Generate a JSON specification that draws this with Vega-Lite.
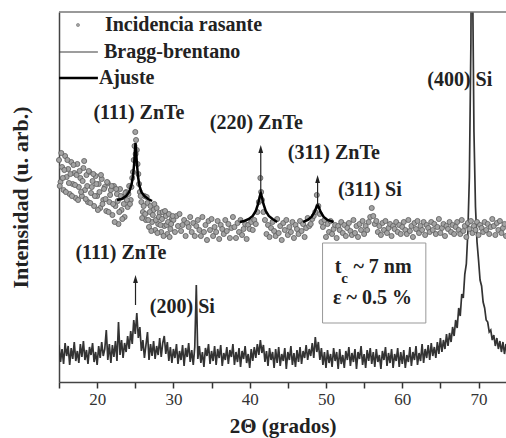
{
  "$schema": "https://vega.github.io/schema/vega-lite/v6.json",
  "width": 447,
  "height": 370,
  "autosize": {"type": "none"},
  "padding": {"left": 59, "top": 12, "right": 0, "bottom": 56},
  "config": {"view": {"stroke": null}, "font": "Liberation Serif", "axis": {"grid": false}},
  "datasets": {
    "bb": [
      {"x":15.0,"y":37},{"x":15.2,"y":20},{"x":15.4,"y":33},{"x":15.6,"y":18},{"x":15.8,"y":39},{"x":16.0,"y":26},{"x":16.2,"y":36},{"x":16.4,"y":17},{"x":16.6,"y":34},{"x":16.8,"y":23},
      {"x":17.0,"y":40},{"x":17.2,"y":21},{"x":17.4,"y":31},{"x":17.6,"y":19},{"x":17.8,"y":38},{"x":18.0,"y":25},{"x":18.2,"y":41},{"x":18.4,"y":22},{"x":18.6,"y":32},{"x":18.8,"y":18},
      {"x":19.0,"y":35},{"x":19.2,"y":27},{"x":19.4,"y":39},{"x":19.6,"y":20},{"x":19.8,"y":30},{"x":20.0,"y":17},{"x":20.2,"y":36},{"x":20.4,"y":24},{"x":20.6,"y":40},{"x":20.8,"y":26},
      {"x":21.0,"y":33},{"x":21.2,"y":52},{"x":21.4,"y":22},{"x":21.6,"y":38},{"x":21.8,"y":19},{"x":22.0,"y":37},{"x":22.2,"y":25},{"x":22.4,"y":41},{"x":22.6,"y":21},{"x":22.8,"y":60},
      {"x":23.0,"y":27},{"x":23.2,"y":42},{"x":23.4,"y":24},{"x":23.6,"y":39},{"x":23.8,"y":30},{"x":24.0,"y":46},{"x":24.2,"y":33},{"x":24.4,"y":51},{"x":24.6,"y":38},{"x":24.8,"y":62},
      {"x":25.0,"y":48},{"x":25.2,"y":69},{"x":25.4,"y":44},{"x":25.6,"y":55},{"x":25.8,"y":31},{"x":26.0,"y":42},{"x":26.2,"y":24},{"x":26.4,"y":37},{"x":26.6,"y":50},{"x":26.8,"y":22},
      {"x":27.0,"y":38},{"x":27.2,"y":26},{"x":27.4,"y":41},{"x":27.6,"y":23},{"x":27.8,"y":36},{"x":28.0,"y":27},{"x":28.2,"y":44},{"x":28.4,"y":25},{"x":28.6,"y":39},{"x":28.8,"y":46},
      {"x":29.0,"y":28},{"x":29.2,"y":40},{"x":29.4,"y":21},{"x":29.6,"y":35},{"x":29.8,"y":19},{"x":30.0,"y":33},{"x":30.2,"y":24},{"x":30.4,"y":38},{"x":30.6,"y":18},{"x":30.8,"y":31},
      {"x":31.0,"y":22},{"x":31.2,"y":37},{"x":31.4,"y":16},{"x":31.6,"y":34},{"x":31.8,"y":25},{"x":32.0,"y":39},{"x":32.2,"y":20},{"x":32.4,"y":32},{"x":32.6,"y":17},{"x":32.8,"y":35},
      {"x":33.0,"y":97},{"x":33.2,"y":23},{"x":33.4,"y":36},{"x":33.6,"y":19},{"x":33.8,"y":30},{"x":34.0,"y":15},{"x":34.2,"y":34},{"x":34.4,"y":26},{"x":34.6,"y":38},{"x":34.8,"y":18},
      {"x":35.0,"y":31},{"x":35.2,"y":21},{"x":35.4,"y":36},{"x":35.6,"y":17},{"x":35.8,"y":33},{"x":36.0,"y":24},{"x":36.2,"y":37},{"x":36.4,"y":16},{"x":36.6,"y":29},{"x":36.8,"y":22},
      {"x":37.0,"y":35},{"x":37.2,"y":18},{"x":37.4,"y":32},{"x":37.6,"y":25},{"x":37.8,"y":38},{"x":38.0,"y":17},{"x":38.2,"y":30},{"x":38.4,"y":20},{"x":38.6,"y":34},{"x":38.8,"y":15},
      {"x":39.0,"y":31},{"x":39.2,"y":23},{"x":39.4,"y":36},{"x":39.6,"y":19},{"x":39.8,"y":28},{"x":40.0,"y":14},{"x":40.2,"y":33},{"x":40.4,"y":21},{"x":40.6,"y":35},{"x":40.8,"y":24},
      {"x":41.0,"y":38},{"x":41.2,"y":27},{"x":41.4,"y":42},{"x":41.6,"y":29},{"x":41.8,"y":37},{"x":42.0,"y":20},{"x":42.2,"y":31},{"x":42.4,"y":16},{"x":42.6,"y":34},{"x":42.8,"y":22},
      {"x":43.0,"y":30},{"x":43.2,"y":14},{"x":43.4,"y":33},{"x":43.6,"y":19},{"x":43.8,"y":35},{"x":44.0,"y":16},{"x":44.2,"y":28},{"x":44.4,"y":21},{"x":44.6,"y":34},{"x":44.8,"y":13},
      {"x":45.0,"y":30},{"x":45.2,"y":22},{"x":45.4,"y":36},{"x":45.6,"y":17},{"x":45.8,"y":29},{"x":46.0,"y":15},{"x":46.2,"y":32},{"x":46.4,"y":20},{"x":46.6,"y":35},{"x":46.8,"y":18},
      {"x":47.0,"y":31},{"x":47.2,"y":24},{"x":47.4,"y":37},{"x":47.6,"y":22},{"x":47.8,"y":33},{"x":48.0,"y":26},{"x":48.2,"y":39},{"x":48.4,"y":24},{"x":48.6,"y":45},{"x":48.8,"y":30},
      {"x":49.0,"y":40},{"x":49.2,"y":22},{"x":49.4,"y":34},{"x":49.6,"y":17},{"x":49.8,"y":30},{"x":50.0,"y":14},{"x":50.2,"y":32},{"x":50.4,"y":19},{"x":50.6,"y":28},{"x":50.8,"y":15},
      {"x":51.0,"y":34},{"x":51.2,"y":21},{"x":51.4,"y":30},{"x":51.6,"y":13},{"x":51.8,"y":33},{"x":52.0,"y":18},{"x":52.2,"y":27},{"x":52.4,"y":14},{"x":52.6,"y":31},{"x":52.8,"y":22},
      {"x":53.0,"y":35},{"x":53.2,"y":16},{"x":53.4,"y":29},{"x":53.6,"y":20},{"x":53.8,"y":33},{"x":54.0,"y":13},{"x":54.2,"y":30},{"x":54.4,"y":23},{"x":54.6,"y":36},{"x":54.8,"y":17},
      {"x":55.0,"y":28},{"x":55.2,"y":14},{"x":55.4,"y":32},{"x":55.6,"y":21},{"x":55.8,"y":34},{"x":56.0,"y":18},{"x":56.2,"y":30},{"x":56.4,"y":15},{"x":56.6,"y":33},{"x":56.8,"y":20},
      {"x":57.0,"y":27},{"x":57.2,"y":13},{"x":57.4,"y":31},{"x":57.6,"y":22},{"x":57.8,"y":35},{"x":58.0,"y":16},{"x":58.2,"y":29},{"x":58.4,"y":19},{"x":58.6,"y":33},{"x":58.8,"y":14},
      {"x":59.0,"y":28},{"x":59.2,"y":21},{"x":59.4,"y":34},{"x":59.6,"y":15},{"x":59.8,"y":30},{"x":60.0,"y":18},{"x":60.2,"y":32},{"x":60.4,"y":14},{"x":60.6,"y":27},{"x":60.8,"y":20},
      {"x":61.0,"y":35},{"x":61.2,"y":16},{"x":61.4,"y":30},{"x":61.6,"y":22},{"x":61.8,"y":36},{"x":62.0,"y":17},{"x":62.2,"y":29},{"x":62.4,"y":21},{"x":62.6,"y":38},{"x":62.8,"y":19},
      {"x":63.0,"y":33},{"x":63.2,"y":24},{"x":63.4,"y":37},{"x":63.6,"y":22},{"x":63.8,"y":39},{"x":64.0,"y":26},{"x":64.2,"y":35},{"x":64.4,"y":24},{"x":64.6,"y":40},{"x":64.8,"y":28},
      {"x":65.0,"y":44},{"x":65.2,"y":30},{"x":65.4,"y":42},{"x":65.6,"y":33},{"x":65.8,"y":48},{"x":66.0,"y":36},{"x":66.2,"y":49},{"x":66.4,"y":40},{"x":66.6,"y":55},{"x":66.8,"y":46},
      {"x":67.0,"y":62},{"x":67.2,"y":54},{"x":67.4,"y":74},{"x":67.6,"y":66},{"x":67.8,"y":88},{"x":68.0,"y":84},{"x":68.2,"y":108},{"x":68.4,"y":118},{"x":68.6,"y":150},{"x":68.8,"y":205},
      {"x":69.0,"y":340},{"x":69.1,"y":500},{"x":69.2,"y":420},{"x":69.4,"y":250},{"x":69.6,"y":175},{"x":69.8,"y":140},{"x":70.0,"y":122},{"x":70.2,"y":102},{"x":70.4,"y":96},{"x":70.6,"y":80},
      {"x":70.8,"y":74},{"x":71.0,"y":62},{"x":71.2,"y":60},{"x":71.4,"y":50},{"x":71.6,"y":52},{"x":71.8,"y":42},{"x":72.0,"y":47},{"x":72.2,"y":36},{"x":72.4,"y":44},{"x":72.6,"y":33},
      {"x":72.8,"y":41},{"x":73.0,"y":30},{"x":73.2,"y":40},{"x":73.4,"y":28},{"x":73.6,"y":38}
    ],
    "gi": [
      {"x":15.0,"y":222},{"x":15.2,"y":200},{"x":15.4,"y":215},{"x":15.6,"y":192},{"x":15.8,"y":226},{"x":16.0,"y":205},{"x":16.2,"y":213},{"x":16.4,"y":188},{"x":16.6,"y":220},{"x":16.8,"y":198},
      {"x":17.0,"y":209},{"x":17.2,"y":184},{"x":17.4,"y":218},{"x":17.6,"y":195},{"x":17.8,"y":204},{"x":18.0,"y":186},{"x":18.2,"y":214},{"x":18.4,"y":192},{"x":18.6,"y":207},{"x":18.8,"y":180},
      {"x":19.0,"y":210},{"x":19.2,"y":189},{"x":19.4,"y":201},{"x":19.6,"y":176},{"x":19.8,"y":206},{"x":20.0,"y":186},{"x":20.2,"y":198},{"x":20.4,"y":174},{"x":20.6,"y":203},{"x":20.8,"y":182},
      {"x":21.0,"y":195},{"x":21.2,"y":171},{"x":21.4,"y":199},{"x":21.6,"y":180},{"x":21.8,"y":192},{"x":22.0,"y":167},{"x":22.2,"y":196},{"x":22.4,"y":176},{"x":22.6,"y":188},{"x":22.8,"y":158},
      {"x":23.0,"y":193},{"x":23.2,"y":172},{"x":23.4,"y":185},{"x":23.6,"y":165},{"x":23.8,"y":190},{"x":24.0,"y":175},{"x":24.2,"y":196},{"x":24.4,"y":182},{"x":24.6,"y":204},{"x":24.8,"y":222},
      {"x":25.0,"y":250},{"x":25.1,"y":242},{"x":25.2,"y":232},{"x":25.4,"y":208},{"x":25.6,"y":190},{"x":25.8,"y":180},{"x":26.0,"y":170},{"x":26.2,"y":186},{"x":26.4,"y":162},{"x":26.6,"y":179},
      {"x":26.8,"y":155},{"x":27.0,"y":176},{"x":27.2,"y":160},{"x":27.4,"y":172},{"x":27.6,"y":152},{"x":27.8,"y":174},{"x":28.0,"y":158},{"x":28.2,"y":169},{"x":28.4,"y":150},{"x":28.6,"y":170},
      {"x":28.8,"y":156},{"x":29.0,"y":166},{"x":29.2,"y":148},{"x":29.4,"y":168},{"x":29.6,"y":153},{"x":29.8,"y":163},
      {"x":30.0,"y":162},{"x":30.2,"y":150},{"x":30.4,"y":166},{"x":30.6,"y":156},{"x":30.8,"y":168},{"x":31.0,"y":151},{"x":31.2,"y":157},{"x":31.4,"y":162},{"x":31.6,"y":146},{"x":31.8,"y":159},
      {"x":32.0,"y":155},{"x":32.2,"y":165},{"x":32.4,"y":150},{"x":32.6,"y":159},{"x":32.8,"y":146},{"x":33.0,"y":156},{"x":33.2,"y":162},{"x":33.4,"y":152},{"x":33.6,"y":146},{"x":33.8,"y":165},
      {"x":34.0,"y":150},{"x":34.2,"y":157},{"x":34.4,"y":142},{"x":34.6,"y":161},{"x":34.8,"y":152},{"x":35.0,"y":163},{"x":35.2,"y":146},{"x":35.4,"y":155},{"x":35.6,"y":150},{"x":35.8,"y":161},
      {"x":36.0,"y":143},{"x":36.2,"y":157},{"x":36.4,"y":153},{"x":36.6,"y":148},{"x":36.8,"y":162},{"x":37.0,"y":151},{"x":37.2,"y":158},{"x":37.4,"y":144},{"x":37.6,"y":154},{"x":37.8,"y":165},
      {"x":38.0,"y":155},{"x":38.2,"y":144},{"x":38.4,"y":159},{"x":38.6,"y":150},{"x":38.8,"y":162},{"x":39.0,"y":147},{"x":39.2,"y":153},{"x":39.4,"y":158},{"x":39.6,"y":143},{"x":39.8,"y":157},
      {"x":40.0,"y":153},{"x":40.2,"y":160},{"x":40.4,"y":152},{"x":40.6,"y":162},
      {"x":40.8,"y":158},{"x":41.0,"y":170},{"x":41.2,"y":180},{"x":41.4,"y":204},{"x":41.5,"y":190},{"x":41.6,"y":182},{"x":41.8,"y":170},{"x":42.0,"y":162},
      {"x":42.2,"y":148},{"x":42.4,"y":157},{"x":42.6,"y":145},{"x":42.8,"y":154},{"x":43.0,"y":160},{"x":43.2,"y":151},{"x":43.4,"y":146},{"x":43.6,"y":163},{"x":43.8,"y":149},{"x":44.0,"y":156},
      {"x":44.2,"y":142},{"x":44.4,"y":159},{"x":44.6,"y":152},{"x":44.8,"y":162},{"x":45.0,"y":147},{"x":45.2,"y":155},{"x":45.4,"y":150},{"x":45.6,"y":160},{"x":45.8,"y":144},{"x":46.0,"y":157},
      {"x":46.2,"y":153},{"x":46.4,"y":148},{"x":46.6,"y":161},{"x":46.8,"y":151},{"x":47.0,"y":158},{"x":47.2,"y":145},{"x":47.4,"y":154},{"x":47.6,"y":164},{"x":47.8,"y":156},{"x":48.0,"y":158},
      {"x":48.2,"y":163},{"x":48.4,"y":166},{"x":48.6,"y":170},{"x":48.8,"y":187},{"x":49.0,"y":176},{"x":49.2,"y":168},{"x":49.4,"y":160},{"x":49.6,"y":155},{"x":49.8,"y":162},
      {"x":50.0,"y":145},{"x":50.2,"y":158},{"x":50.4,"y":150},{"x":50.6,"y":161},{"x":50.8,"y":148},{"x":51.0,"y":153},{"x":51.2,"y":157},{"x":51.4,"y":144},{"x":51.6,"y":156},{"x":51.8,"y":152},
      {"x":52.0,"y":160},{"x":52.2,"y":149},{"x":52.4,"y":157},{"x":52.6,"y":146},{"x":52.8,"y":154},{"x":53.0,"y":159},{"x":53.2,"y":151},{"x":53.4,"y":147},{"x":53.6,"y":162},{"x":53.8,"y":149},
      {"x":54.0,"y":156},{"x":54.2,"y":145},{"x":54.4,"y":158},{"x":54.6,"y":152},{"x":54.8,"y":161},{"x":55.0,"y":148},{"x":55.2,"y":156},{"x":55.4,"y":152},{"x":55.6,"y":160},{"x":55.8,"y":165},
      {"x":56.0,"y":174},{"x":56.2,"y":166},{"x":56.4,"y":158},{"x":56.6,"y":161},{"x":56.8,"y":150},
      {"x":57.0,"y":156},{"x":57.2,"y":147},{"x":57.4,"y":159},{"x":57.6,"y":152},{"x":57.8,"y":161},{"x":58.0,"y":149},{"x":58.2,"y":154},{"x":58.4,"y":158},{"x":58.6,"y":146},{"x":58.8,"y":156},
      {"x":59.0,"y":153},{"x":59.2,"y":160},{"x":59.4,"y":150},{"x":59.6,"y":157},{"x":59.8,"y":148},{"x":60.0,"y":155},{"x":60.2,"y":160},{"x":60.4,"y":152},{"x":60.6,"y":148},{"x":60.8,"y":162},
      {"x":61.0,"y":151},{"x":61.2,"y":156},{"x":61.4,"y":145},{"x":61.6,"y":159},{"x":61.8,"y":153},{"x":62.0,"y":161},{"x":62.2,"y":149},{"x":62.4,"y":156},{"x":62.6,"y":152},{"x":62.8,"y":160},
      {"x":63.0,"y":147},{"x":63.2,"y":157},{"x":63.4,"y":154},{"x":63.6,"y":150},{"x":63.8,"y":160},{"x":64.0,"y":152},{"x":64.2,"y":158},{"x":64.4,"y":148},{"x":64.6,"y":155},{"x":64.8,"y":163},
      {"x":65.0,"y":149},{"x":65.2,"y":154},{"x":65.4,"y":158},{"x":65.6,"y":146},{"x":65.8,"y":156},{"x":66.0,"y":153},{"x":66.2,"y":160},{"x":66.4,"y":150},{"x":66.6,"y":157},{"x":66.8,"y":148},
      {"x":67.0,"y":155},{"x":67.2,"y":160},{"x":67.4,"y":152},{"x":67.6,"y":148},{"x":67.8,"y":162},{"x":68.0,"y":151},{"x":68.2,"y":156},{"x":68.4,"y":145},{"x":68.6,"y":159},{"x":68.8,"y":153},
      {"x":69.0,"y":161},{"x":69.2,"y":149},{"x":69.4,"y":156},{"x":69.6,"y":152},{"x":69.8,"y":160},{"x":70.0,"y":147},{"x":70.2,"y":157},{"x":70.4,"y":154},{"x":70.6,"y":150},{"x":70.8,"y":160},
      {"x":71.0,"y":152},{"x":71.2,"y":158},{"x":71.4,"y":148},{"x":71.6,"y":155},{"x":71.8,"y":163},{"x":72.0,"y":156},{"x":72.2,"y":147},{"x":72.4,"y":159},{"x":72.6,"y":152},{"x":72.8,"y":161},
      {"x":73.0,"y":149},{"x":73.2,"y":154},{"x":73.4,"y":158},{"x":73.6,"y":146},
      {"x":15.1,"y":196},{"x":15.3,"y":229},{"x":15.5,"y":204},{"x":15.7,"y":212},{"x":15.9,"y":190},{"x":16.1,"y":222},{"x":16.3,"y":199},{"x":16.5,"y":208},{"x":16.7,"y":186},{"x":16.9,"y":217},
      {"x":17.1,"y":197},{"x":17.3,"y":207},{"x":17.5,"y":182},{"x":17.7,"y":211},{"x":17.9,"y":190},{"x":18.1,"y":201},{"x":18.3,"y":221},{"x":18.5,"y":183},{"x":18.7,"y":196},{"x":18.9,"y":211},
      {"x":19.1,"y":179},{"x":19.3,"y":195},{"x":19.5,"y":208},{"x":19.7,"y":186},{"x":19.9,"y":198},{"x":20.1,"y":172},{"x":20.3,"y":190},{"x":20.5,"y":207},{"x":20.7,"y":178},{"x":20.9,"y":193},
      {"x":21.1,"y":183},{"x":21.3,"y":200},{"x":21.5,"y":170},{"x":21.7,"y":187},{"x":21.9,"y":196},{"x":22.1,"y":178},{"x":22.3,"y":160},{"x":22.5,"y":193},{"x":22.7,"y":181},{"x":22.9,"y":170},
      {"x":23.1,"y":186},{"x":23.3,"y":163},{"x":23.5,"y":178},{"x":23.7,"y":189},{"x":23.9,"y":182},{"x":24.1,"y":188},{"x":24.3,"y":178},{"x":24.5,"y":195},{"x":24.7,"y":210},{"x":24.9,"y":236},
      {"x":25.05,"y":228},{"x":25.3,"y":218},{"x":25.5,"y":198},{"x":25.7,"y":186},{"x":25.9,"y":164},{"x":26.1,"y":176},{"x":26.3,"y":168},{"x":26.5,"y":185},{"x":26.7,"y":162},{"x":26.9,"y":170},
      {"x":27.1,"y":151},{"x":27.3,"y":167},{"x":27.5,"y":178},{"x":27.7,"y":162},{"x":27.9,"y":149},{"x":28.1,"y":165},{"x":28.3,"y":157},{"x":28.5,"y":163},{"x":28.7,"y":146},{"x":28.9,"y":171},
      {"x":29.1,"y":157},{"x":29.3,"y":160},{"x":29.5,"y":145},{"x":29.7,"y":158},{"x":29.9,"y":166}
    ],
    "fit": [
      {"x":22.6,"y":182,"seg":"a"},{"x":23.2,"y":183,"seg":"a"},{"x":23.8,"y":186,"seg":"a"},{"x":24.2,"y":190,"seg":"a"},{"x":24.5,"y":197,"seg":"a"},{"x":24.7,"y":206,"seg":"a"},{"x":24.85,"y":218,"seg":"a"},{"x":24.95,"y":231,"seg":"a"},{"x":25.03,"y":239,"seg":"a"},{"x":25.1,"y":232,"seg":"a"},{"x":25.2,"y":220,"seg":"a"},{"x":25.35,"y":206,"seg":"a"},{"x":25.55,"y":196,"seg":"a"},{"x":25.8,"y":190,"seg":"a"},{"x":26.2,"y":186,"seg":"a"},{"x":26.7,"y":183,"seg":"a"},{"x":27.2,"y":181,"seg":"a"},
      {"x":38.7,"y":160,"seg":"b"},{"x":39.3,"y":161,"seg":"b"},{"x":39.9,"y":163,"seg":"b"},{"x":40.4,"y":166,"seg":"b"},{"x":40.8,"y":171,"seg":"b"},{"x":41.1,"y":178,"seg":"b"},{"x":41.3,"y":185,"seg":"b"},{"x":41.45,"y":189,"seg":"b"},{"x":41.6,"y":185,"seg":"b"},{"x":41.8,"y":178,"seg":"b"},{"x":42.1,"y":171,"seg":"b"},{"x":42.5,"y":166,"seg":"b"},{"x":43.0,"y":163,"seg":"b"},{"x":43.6,"y":160,"seg":"b"},
      {"x":47.0,"y":160,"seg":"c"},{"x":47.6,"y":162,"seg":"c"},{"x":48.1,"y":165,"seg":"c"},{"x":48.5,"y":170,"seg":"c"},{"x":48.75,"y":175,"seg":"c"},{"x":48.9,"y":177,"seg":"c"},{"x":49.05,"y":175,"seg":"c"},{"x":49.3,"y":170,"seg":"c"},{"x":49.7,"y":165,"seg":"c"},{"x":50.2,"y":162,"seg":"c"},{"x":51.0,"y":160,"seg":"c"}
    ],
    "top": [{"x":15,"y":370},{"x":73.6,"y":370}],
    "arrows": [
      {"x":25.03,"y":77,"y2":101},
      {"x":41.45,"y":190,"y2":231},
      {"x":48.9,"y":177,"y2":201}
    ],
    "heads": [
      {"x":25.03,"y":103},
      {"x":41.45,"y":233},
      {"x":48.9,"y":203}
    ],
    "box": [{"x":49.55,"x2":63.09,"y":59,"y2":139}],
    "labels": [
      {"x":25.48,"y":269,"label":"(111) ZnTe"},
      {"x":40.87,"y":259,"label":"(220) ZnTe"},
      {"x":51.03,"y":229,"label":"(311) ZnTe"},
      {"x":55.75,"y":192,"label":"(311) Si"},
      {"x":67.54,"y":302,"label":"(400) Si"},
      {"x":23.11,"y":129,"label":"(111) ZnTe"},
      {"x":31.17,"y":75,"label":"(200) Si"},
      {"x":56.1,"y":84,"label":"ε ~ 0.5 %"}
    ],
    "ltext": [
      {"x":51.16,"y":115,"label":"t"},
      {"x":53.6,"y":115,"label":"~ 7 nm"},
      {"x":21.02,"y":357,"label":"Incidencia rasante"},
      {"x":20.9,"y":330,"label":"Bragg-brentano"},
      {"x":20.23,"y":304,"label":"Ajuste"}
    ],
    "sub": [{"x":52.0,"y":104,"label":"c"}],
    "legdot": [{"x":17.49,"y":357}],
    "legline": [{"x":15,"y":330},{"x":20.1,"y":330}],
    "legfit": [{"x":15,"y":304},{"x":20.1,"y":304}]
  },
  "encoding": {
    "x": {
      "field": "x", "type": "quantitative",
      "scale": {"domain": [15, 73.6], "nice": false, "zero": false},
      "axis": {
        "values": [15, 20, 25, 30, 35, 40, 45, 50, 55, 60, 65, 70],
        "labelExpr": "datum.value % 10 === 0 ? datum.label : ''",
        "domain": true, "domainColor": "#444", "domainWidth": 1.5,
        "tickSize": 6, "tickColor": "#333", "tickWidth": 1.5,
        "labelFont": "Liberation Serif", "labelFontSize": 17, "labelColor": "#333", "labelPadding": 3,
        "title": "2Θ (grados)", "titleFont": "Liberation Serif", "titleFontSize": 21, "titleFontWeight": "bold", "titleColor": "#222", "titlePadding": 8,
        "grid": false,
        "encode": {"ticks": {"update": {"y2": {"signal": "datum.value % 10 === 0 ? 6 : 4"}}}}
      }
    },
    "y": {
      "field": "y", "type": "quantitative",
      "scale": {"domain": [0, 370], "nice": false, "zero": false},
      "axis": {
        "labels": false, "ticks": false, "grid": false,
        "domain": true, "domainColor": "#444", "domainWidth": 1.5,
        "title": "Intensidad (u. arb.)", "titleFont": "Liberation Serif", "titleFontSize": 22, "titleFontWeight": "bold", "titleColor": "#222", "titlePadding": 27
      }
    }
  },
  "layer": [
    {"data": {"name": "bb"}, "mark": {"type": "line", "color": "#333", "strokeWidth": 1.7, "clip": true}},
    {"data": {"name": "gi"}, "mark": {"type": "point", "filled": true, "fill": "#a3a3a3", "stroke": "#5c5c5c", "strokeWidth": 0.8, "size": 26, "opacity": 1}},
    {"data": {"name": "fit"}, "mark": {"type": "line", "color": "#000", "strokeWidth": 2.5}, "encoding": {"detail": {"field": "seg"}}},
    {"data": {"name": "top"}, "mark": {"type": "line", "color": "#777", "strokeWidth": 1.5}},
    {"data": {"name": "arrows"}, "mark": {"type": "rule", "color": "#222", "strokeWidth": 1.2}, "encoding": {"y2": {"field": "y2"}}},
    {"data": {"name": "heads"}, "mark": {"type": "point", "shape": "M-0.6,1L0,-1L0.6,1Z", "filled": true, "color": "#222", "size": 64, "opacity": 1}},
    {"data": {"name": "box"}, "mark": {"type": "rect", "fill": "white", "stroke": "#999", "strokeWidth": 1}, "encoding": {"x2": {"field": "x2"}, "y2": {"field": "y2"}}},
    {"data": {"name": "labels"}, "mark": {"type": "text", "font": "Liberation Serif", "fontSize": 20, "fontWeight": "bold", "color": "#222", "align": "center", "baseline": "middle"}, "encoding": {"text": {"field": "label"}}},
    {"data": {"name": "ltext"}, "mark": {"type": "text", "font": "Liberation Serif", "fontSize": 20, "fontWeight": "bold", "color": "#222", "align": "left", "baseline": "middle"}, "encoding": {"text": {"field": "label"}}},
    {"data": {"name": "sub"}, "mark": {"type": "text", "font": "Liberation Serif", "fontSize": 15, "fontWeight": "bold", "color": "#222", "align": "left", "baseline": "middle"}, "encoding": {"text": {"field": "label"}}},
    {"data": {"name": "legdot"}, "mark": {"type": "point", "filled": true, "fill": "#a3a3a3", "stroke": "#777", "strokeWidth": 0.6, "size": 10, "opacity": 1}},
    {"data": {"name": "legline"}, "mark": {"type": "line", "color": "#3c3c3c", "strokeWidth": 1.2}},
    {"data": {"name": "legfit"}, "mark": {"type": "line", "color": "#000", "strokeWidth": 2.5}}
  ]
}
